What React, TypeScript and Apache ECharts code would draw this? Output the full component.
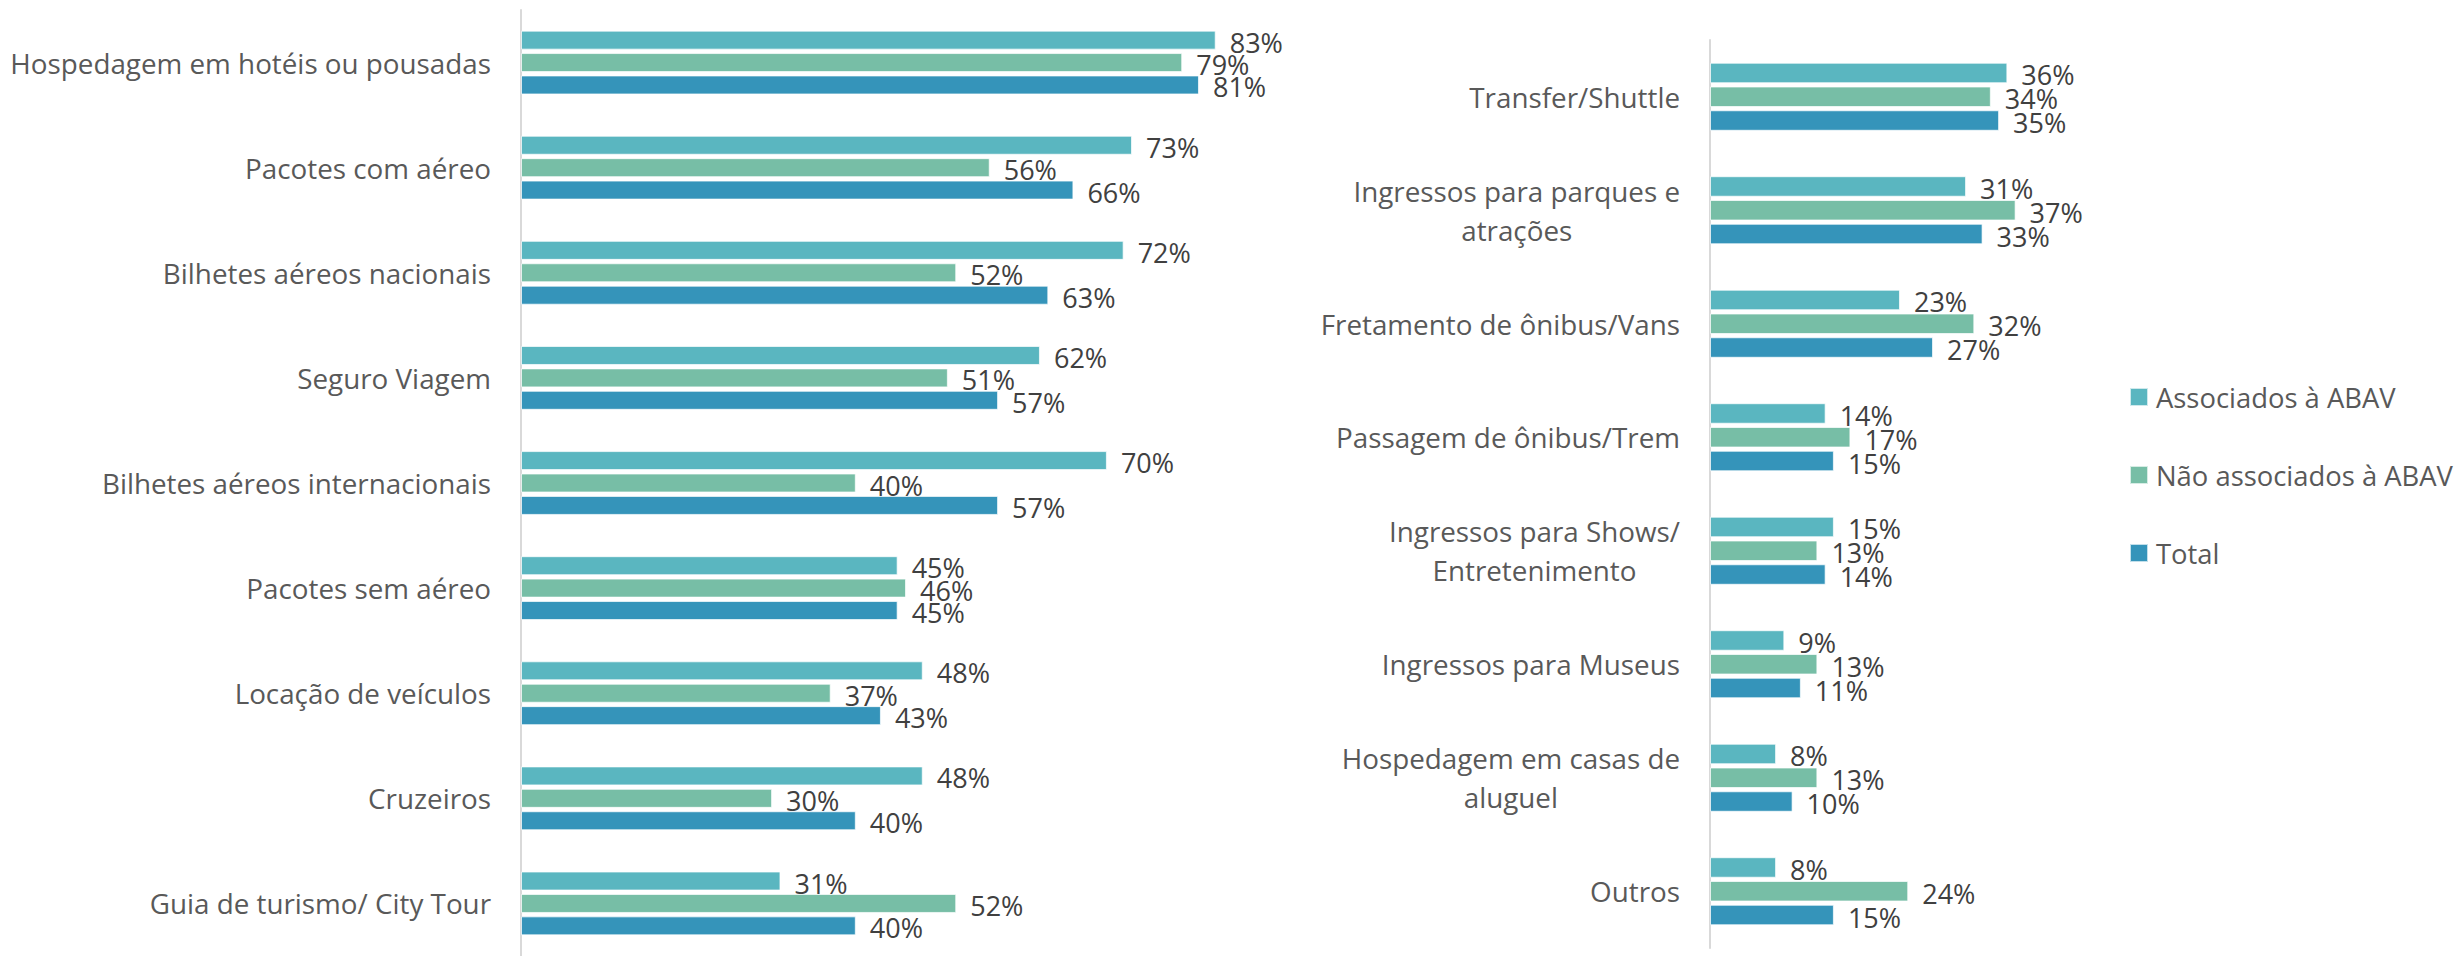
import React, { useEffect, useRef } from 'react';
import * as echarts from 'echarts';

const seriesNames = ['Associados à ABAV', 'Não associados à ABAV', 'Total'];
const seriesColors = ['#5AB6C0', '#77BEA6', '#3594BA'];

const leftCategories = [
  'Hospedagem em hotéis ou pousadas',
  'Pacotes com aéreo',
  'Bilhetes aéreos nacionais',
  'Seguro Viagem',
  'Bilhetes aéreos internacionais',
  'Pacotes sem aéreo',
  'Locação de veículos',
  'Cruzeiros',
  'Guia de turismo/ City Tour',
];
const leftAssociados = [83, 73, 72, 62, 70, 45, 48, 48, 31];
const leftNaoAssociados = [79, 56, 52, 51, 40, 46, 37, 30, 52];
const leftTotal = [81, 66, 63, 57, 57, 45, 43, 40, 40];

const rightCategories = [
  'Transfer/Shuttle',
  'Ingressos para parques e\natrações',
  'Fretamento de ônibus/Vans',
  'Passagem de ônibus/Trem',
  'Ingressos para Shows/\nEntretenimento',
  'Ingressos para Museus',
  'Hospedagem em casas de\naluguel',
  'Outros',
];
const rightAssociados = [36, 31, 23, 14, 15, 9, 8, 8];
const rightNaoAssociados = [34, 37, 32, 17, 13, 13, 13, 24];
const rightTotal = [35, 33, 27, 15, 14, 11, 10, 15];

const FONT = '"Open Sans", "Noto Sans", sans-serif';
const FS_LABEL = 27.8;
const FS_VALUE = 27;
const FS_LEGEND = 27.4;

export default function App() {
  const ref = useRef<HTMLDivElement>(null);
  useEffect(() => {
    document.body.style.margin = '0';
    if (!ref.current) return;
    const chart = echarts.init(ref.current, undefined, { renderer: 'svg' });

    const catAxis = (idx: number, data: string[]) => ({
      type: 'category',
      gridIndex: idx,
      data,
      inverse: true,
      axisLine: { show: true, lineStyle: { color: '#D9D9D9', width: 2 } },
      axisTick: { show: false },
      splitLine: { show: false },
      axisLabel: {
        margin: 30,
        formatter: (v: string) => v.split('\n').map((l) => `{c|${l}}`).join('\n'),
        rich: {
          c: {
            align: 'center',
            fontFamily: FONT,
            fontSize: FS_LABEL,
            color: '#595959',
            lineHeight: 39,
          },
        },
      },
    });

    const makeSeries = (gridIdx: number, arrays: number[][], barWidth: number, barGap: string) =>
      arrays.map((arr, i) => ({
        type: 'bar',
        name: seriesNames[i],
        xAxisIndex: gridIdx,
        yAxisIndex: gridIdx,
        data: arr,
        barWidth,
        barGap,
        itemStyle: { color: seriesColors[i], borderColor: 'rgba(255,255,255,0.7)', borderWidth: 1 },
        label: {
          show: true,
          position: 'right',
          distance: 14,
          offset: [0, 2],
          formatter: (p: any) => `${p.value}%`,
          fontFamily: FONT,
          fontSize: FS_VALUE,
          color: '#404040',
        },
      }));

    chart.setOption({
      animation: false,
      backgroundColor: '#ffffff',
      legend: {
        orient: 'vertical',
        left: 2124,
        top: 377,
        itemWidth: 18,
        itemHeight: 18,
        itemGap: 48,
        icon: 'rect',
        data: seriesNames,
        textStyle: {
          fontFamily: FONT,
          fontSize: FS_LEGEND,
          color: '#595959',
          lineHeight: 30,
          padding: [0, 0, 0, 3],
        },
      },
      grid: [
        { left: 521, top: 10, width: 837, height: 947, containLabel: false },
        { left: 1710, top: 40, width: 413, height: 908, containLabel: false },
      ],
      xAxis: [
        { type: 'value', gridIndex: 0, min: 0, max: 100, show: false },
        { type: 'value', gridIndex: 1, min: 0, max: 50, show: false },
      ],
      yAxis: [catAxis(0, leftCategories), catAxis(1, rightCategories)],
      series: [
        ...makeSeries(0, [leftAssociados, leftNaoAssociados, leftTotal], 19, '18%'),
        ...makeSeries(1, [rightAssociados, rightNaoAssociados, rightTotal], 20.5, '16%'),
      ],
    } as any);

    return () => chart.dispose();
  }, []);

  return <div ref={ref} style={{ width: 2458, height: 956 }} />;
}
